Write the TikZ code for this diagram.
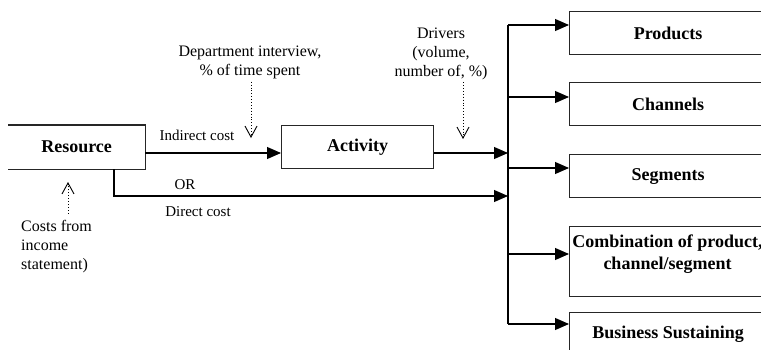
\documentclass[tikz,border=0pt]{standalone}
\usepackage{fontspec}
\setmainfont{Liberation Serif}
\usetikzlibrary{arrows.meta}
\begin{document}
\begin{tikzpicture}[x=1pt,y=-1pt,
  frame/.style={line width=1.2pt, color=black!85, text=black},
  box/.style={frame, minimum height=43pt, inner sep=0pt, anchor=north west,
    font=\fontsize{18}{21}\selectfont\bfseries},
  outbox/.style={box, draw, minimum width=197pt},
  note/.style={font=\fontsize{16}{19}\selectfont, inner sep=0pt, align=center},
  lbl/.style={font=\fontsize{15}{18}\selectfont, inner sep=0pt},
  flow/.style={line width=1.1pt, -{Triangle[length=14pt,width=12pt]}},
  hint/.style={line width=0.9pt, dotted,
    -{Straight Barb[length=11pt,width=12pt,line width=0.9pt]}}]
\useasboundingbox (0,0) rectangle (761,349);
\clip (0,0) rectangle (761,349);

% resource (open on its left side) and activity
\node[box, minimum width=136pt] (res) at (8,125) {Resource};
\draw[frame] (res.north west) -- (res.north east) -- (res.south east) -- (res.south west);
\node[box, draw, minimum width=152pt] (act) at (281,125) {Activity};

% cost objects
\node[outbox] (prod) at (569,11) {Products};
\node[outbox] (chan) at (569,82) {Channels};
\node[outbox] (seg) at (569,154) {Segments};
\node[outbox, minimum height=70pt] (comb) at (569,226) {};
\node[font=\fontsize{18}{22}\selectfont\bfseries, align=center, inner sep=0pt]
  (combtext) at (667.5,254) {Combination of product,\\channel/segment};
\node[outbox] (bus) at (569,312) {Business Sustaining};

% distribution bus
\coordinate (b1) at (508,25);
\coordinate (b2) at (508,97);
\coordinate (b3) at (508,168);
\coordinate (b4) at (508,254);
\coordinate (b5) at (508,324);
\coordinate (inA) at (508,153);
\coordinate (inD) at (508,196);
\coordinate (split) at (114,196);
\draw[line width=1.1pt] (b1) -- (b5);
\draw[flow] (b1) -- (prod.west |- b1);
\draw[flow] (b2) -- (chan.west |- b2);
\draw[flow] (b3) -- (seg.west |- b3);
\draw[flow] (b4) -- (comb.west |- b4);
\draw[flow] (b5) -- (bus.west |- b5);

% cost flows
\draw[flow] (res.east |- inA) -- (act.west |- inA);
\draw[flow] (act.east |- inA) -- (inA);
\draw[flow] (split |- res.south) -- (split) -- (inD);
\node[lbl] (ind) at (197,135) {Indirect cost};
\node[lbl] (or) at (185,185) {OR};
\node[lbl] (dir) at (198,212) {Direct cost};

% allocation bases
\node[note] (dept) at (250,62) {Department interview,\\\% of time spent};
\coordinate (deptTip) at (251,138);
\draw[hint] ([yshift=-3pt]dept.south -| deptTip) -- (deptTip);

\node[note] (drv) at (441,54) {Drivers\\(volume,\\number of, \%)};
\coordinate (drvTip) at (463,139);
\draw[hint] ([yshift=-2pt]drv.south -| drvTip) -- (drvTip);

\node[note, align=left, anchor=west] (costs) at (21,247) {Costs from\\income\\statement)};
\coordinate (costTip) at (68,182);
\draw[hint] ([yshift=7pt]costs.north -| costTip) -- (costTip);
\end{tikzpicture}
\end{document}
